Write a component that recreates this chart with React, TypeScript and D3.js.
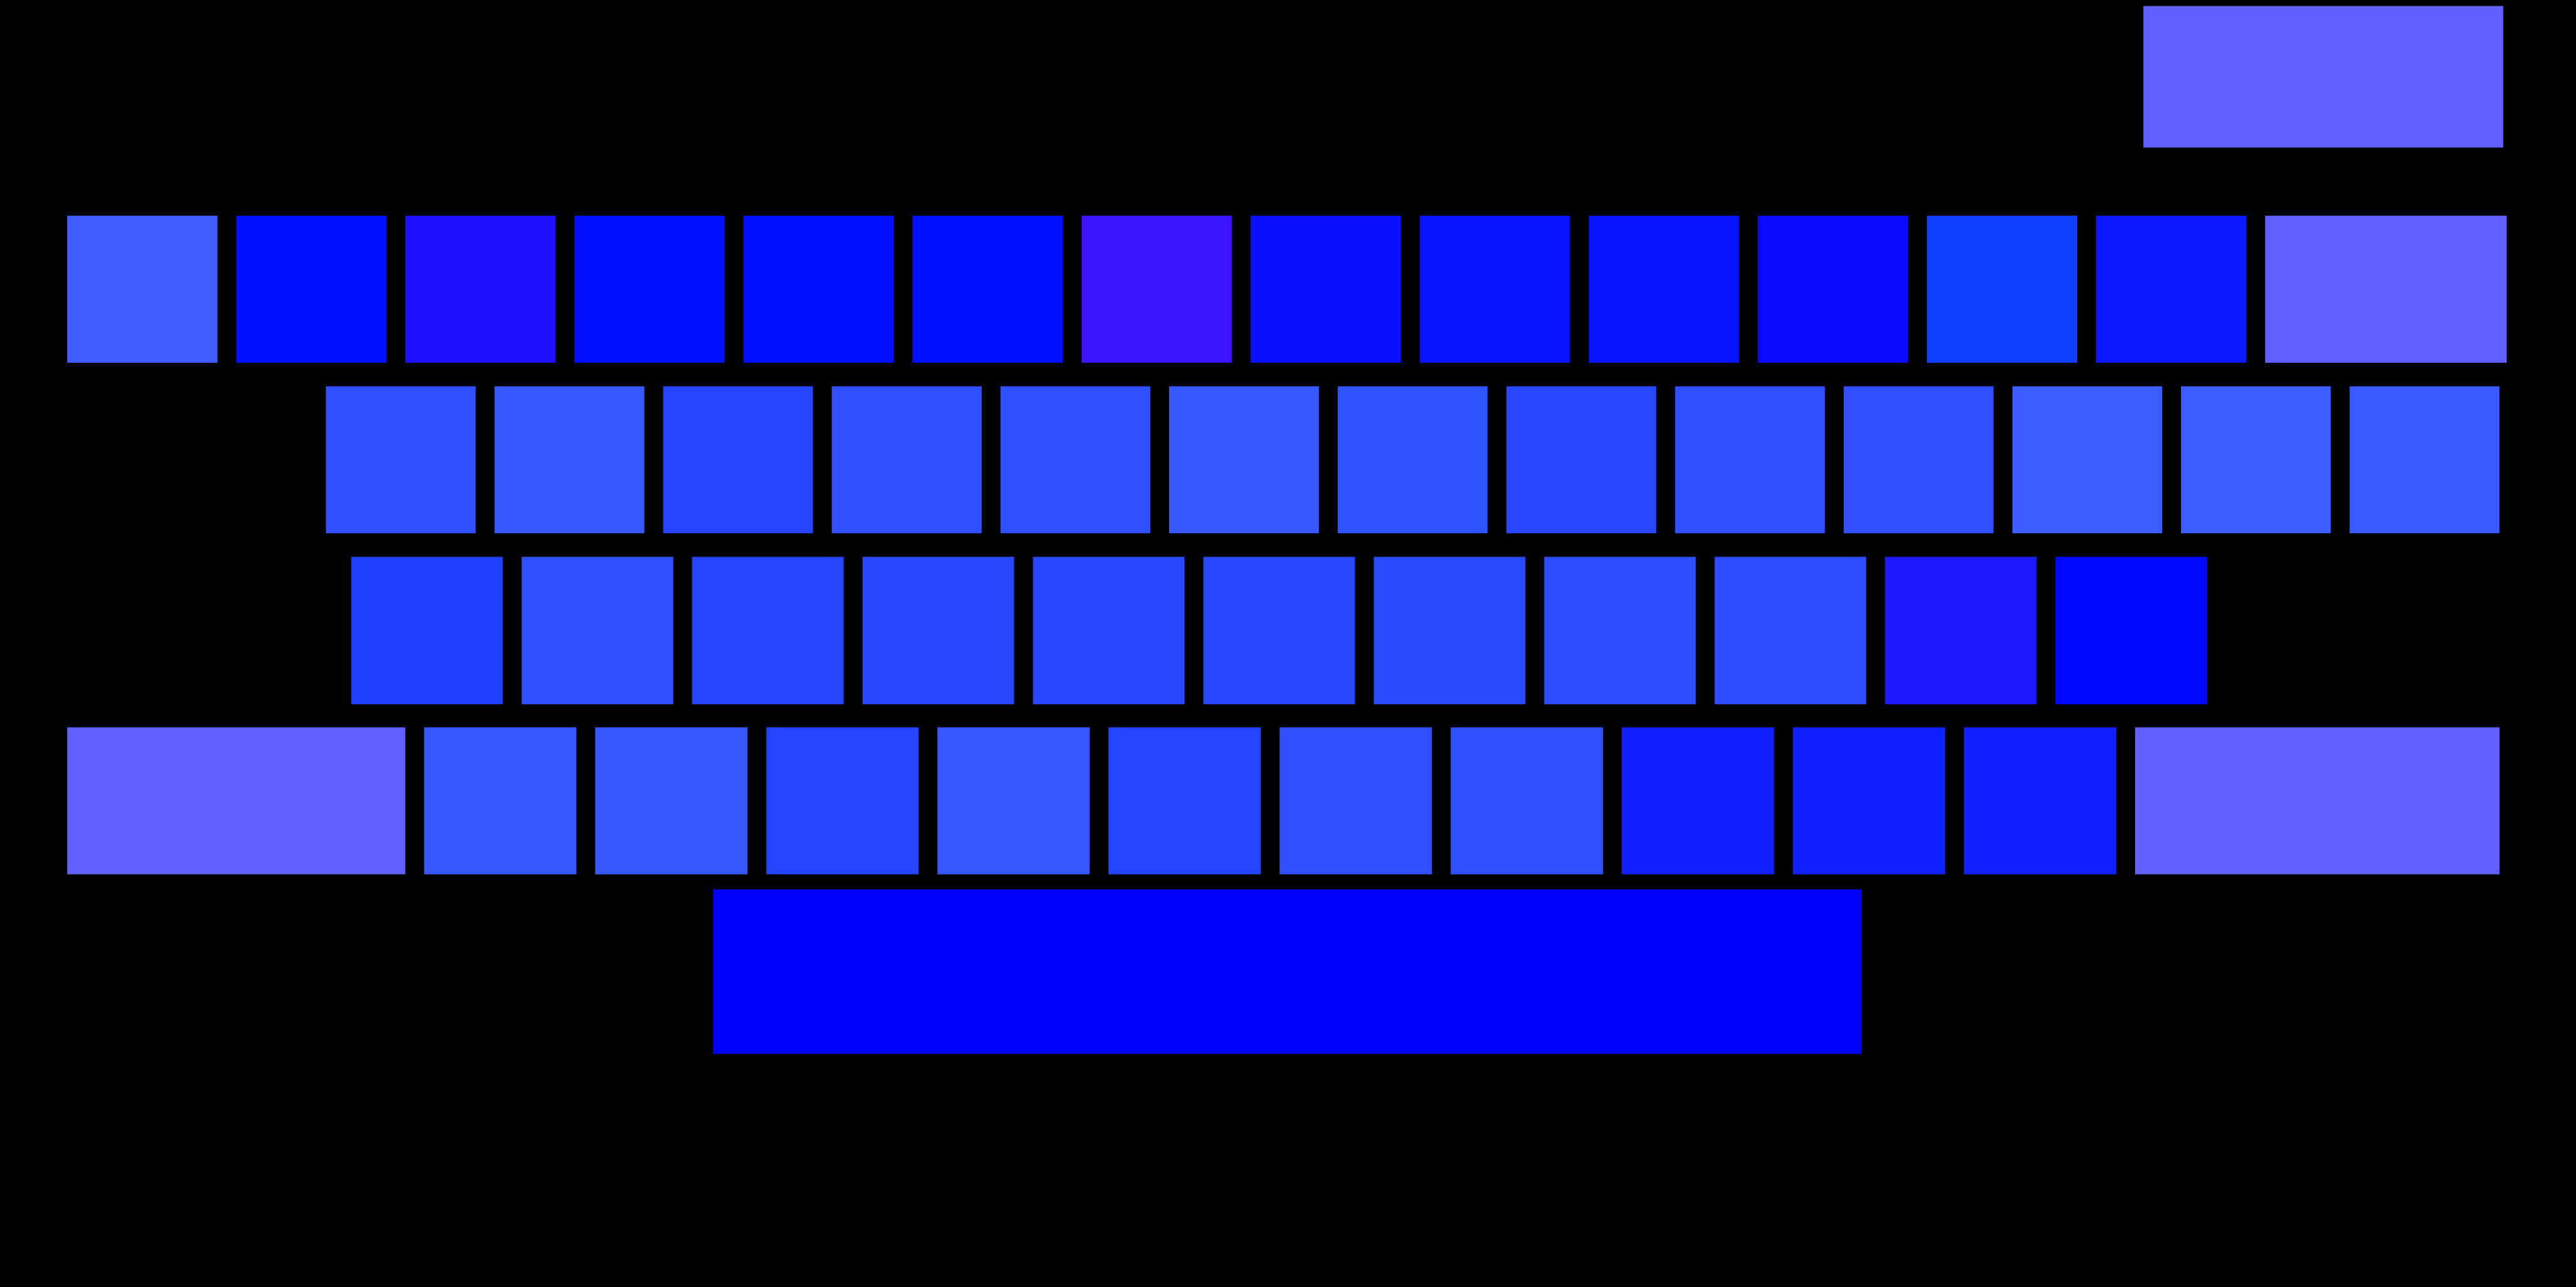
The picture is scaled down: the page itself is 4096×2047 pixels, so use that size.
import * as d3 from 'd3';
import React, { useRef, useEffect } from 'react';

const scale = 0.999;
const mainWidth = 4098 * scale;
const mainHeight = 2048 * scale;

// reference px per key unit / per key row
const keyUnit = 269.1;
const rowUnit = 271.5;
const margin = { top: 343.5, left: 107 };
const keyGap = 30;

// keyboard rows, top to bottom (positions in key units / rows)
const rowNames = ['top', 'number', 'upper', 'home', 'lower', 'space'];
const rowY = [-1.23, 0, 1, 2, 3, 3.95];
const rowHeight = [0.83, 0.862, 0.862, 0.865, 0.862, 0.965];
const rowStart = [12.28, 0, 1.53, 1.68, 0, 3.82];
const rowPitch = [1, 1, 0.9975, 1.008, 1.012, 1];

const topKeys = ['Del'];
const numberKeys = ['`', '1', '2', '3', '4', '5', '6', '7', '8', '9', '0', '-', '=', 'Backspace'];
const upperKeys = ['Q', 'W', 'E', 'R', 'T', 'Y', 'U', 'I', 'O', 'P', '[', ']', '\\'];
const homeKeys = ['A', 'S', 'D', 'F', 'G', 'H', 'J', 'K', 'L', ';', "'"];
const lowerKeys = ['LShift', 'Z', 'X', 'C', 'V', 'B', 'N', 'M', ',', '.', '/', 'RShift'];
const spaceKeys = ['Space'];

const topWidths = [2.24];
const numberWidths = [1, 1, 1, 1, 1, 1, 1, 1, 1, 1, 1, 1, 1, 1.54];
const upperWidths = [1, 1, 1, 1, 1, 1, 1, 1, 1, 1, 1, 1, 1];
const homeWidths = [1, 1, 1, 1, 1, 1, 1, 1, 1, 1, 1];
const lowerWidths = [2.086, 1, 1, 1, 1, 1, 1, 1, 1, 1, 1, 2.24];
const spaceWidths = [6.905];

// heat colour per key
const topHeat = ['#6060ff'];
const numberHeat = ['#405cff', '#0010ff', '#1e10ff', '#0010ff', '#0010ff', '#0010ff', '#3c14ff', '#0810ff', '#0814ff', '#0814ff', '#0a0aff', '#1040ff', '#0c1aff', '#6060ff'];
const upperHeat = ['#3050ff', '#3858ff', '#2444ff', '#3050ff', '#3050ff', '#3858ff', '#3054ff', '#2848ff', '#3050ff', '#3050ff', '#3c5cff', '#3c5cff', '#3a5aff'];
const homeHeat = ['#2040ff', '#3050ff', '#2444ff', '#2848ff', '#2848ff', '#2848ff', '#2a4cff', '#2c4cff', '#2c4cff', '#1a18ff', '#0008ff'];
const lowerHeat = ['#6060ff', '#3858ff', '#3858ff', '#2444ff', '#3858ff', '#2444ff', '#3050ff', '#3050ff', '#1020ff', '#1020ff', '#1020ff', '#6060ff'];
const spaceHeat = ['#0000ff'];

const rowKeys = [topKeys, numberKeys, upperKeys, homeKeys, lowerKeys, spaceKeys];
const rowWidths = [topWidths, numberWidths, upperWidths, homeWidths, lowerWidths, spaceWidths];
const rowHeat = [topHeat, numberHeat, upperHeat, homeHeat, lowerHeat, spaceHeat];

export default function App() {
  const ref = useRef<SVGSVGElement>(null);

  useEffect(() => {
    const svg = d3.select(ref.current);
    svg.selectAll('*').remove();

    const x = d3
      .scaleLinear()
      .domain([0, 1])
      .range([margin.left * scale, (margin.left + keyUnit) * scale]);
    const y = d3
      .scaleLinear()
      .domain([0, 1])
      .range([margin.top * scale, (margin.top + rowUnit) * scale]);

    // flatten rows into key cells
    const cells = rowNames.flatMap((row, r) => {
      let pos = rowStart[r];
      return rowKeys[r].map((key, i) => {
        const w = rowWidths[r][i] * rowPitch[r];
        const cell = { row, key, x0: pos, x1: pos + w, y0: rowY[r], y1: rowY[r] + rowHeight[r], color: rowHeat[r][i] };
        pos += w;
        return cell;
      });
    });

    svg
      .append('rect')
      .attr('width', mainWidth)
      .attr('height', mainHeight)
      .attr('fill', '#000');

    svg
      .append('g')
      .selectAll('rect')
      .data(cells)
      .join('rect')
      .attr('x', (d) => x(d.x0))
      .attr('y', (d) => y(d.y0))
      .attr('width', (d) => x(d.x1) - x(d.x0) - keyGap * scale)
      .attr('height', (d) => y(d.y1) - y(d.y0))
      .attr('fill', (d) => d.color);
  }, []);

  return (
    <>
      <style>{'body{margin:0;background:#000;overflow:hidden}'}</style>
      <svg ref={ref} width={mainWidth} height={mainHeight} style={{ display: 'block' }}></svg>
    </>
  );
}
